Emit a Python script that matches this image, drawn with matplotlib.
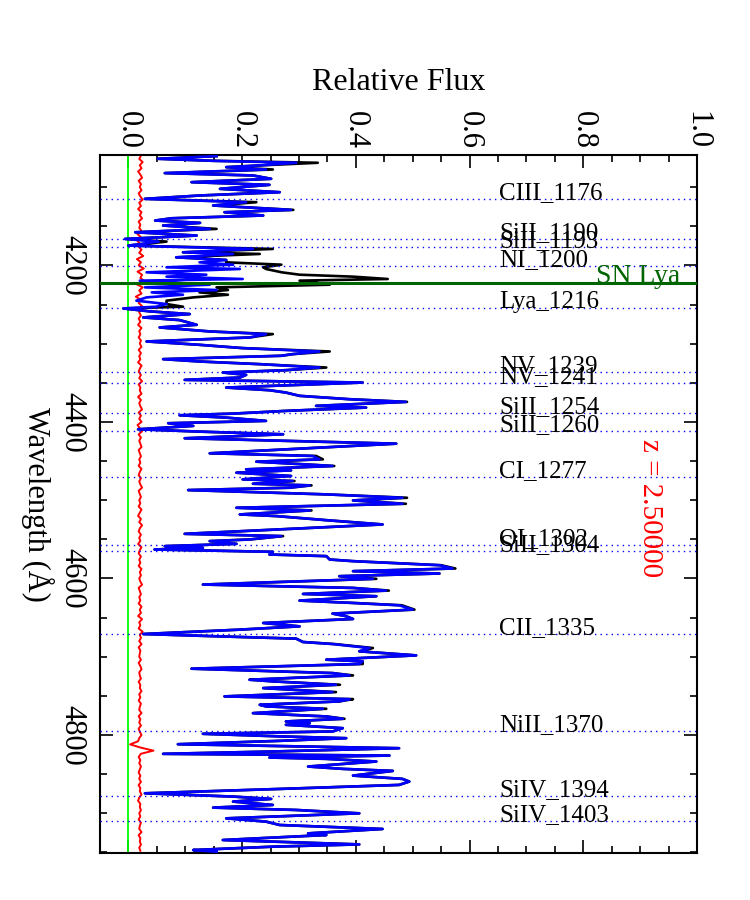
import numpy as np
import matplotlib
matplotlib.use("Agg")
import matplotlib.pyplot as plt
from matplotlib.ticker import MultipleLocator, FormatStrFormatter

# ---------------- data ----------------
z = 2.5
sn_lya = 4222.5

line_names = ["CIII_1176", "SiII_1190", "SiII_1193", "NI_1200", "Lya_1216",
              "NV_1239", "NV_1241", "SiII_1254", "SiII_1260", "CI_1277",
              "OI_1302", "SiII_1304", "CII_1335", "NiII_1370", "SiIV_1394",
              "SiIV_1403"]
line_rest = [1175.71, 1190.42, 1193.29, 1200.09, 1215.67,
             1238.82, 1242.80, 1253.81, 1260.42, 1277.25,
             1302.17, 1304.37, 1334.53, 1370.13, 1393.76,
             1402.77]

wave = [
    4060.4, 4063.8, 4066.4, 4068.9, 4072.3, 4074.5, 4077.5, 4082.1, 4085.1, 4089.4,
    4093.7, 4097.1, 4102.2, 4106.5, 4110.7, 4115.0, 4119.3, 4123.5, 4129.1, 4132.1,
    4136.3, 4139.8, 4142.7, 4145.7, 4149.1, 4153.4, 4157.7, 4161.9, 4166.2, 4169.6,
    4174.7, 4179.0, 4183.3,
    4185.4, 4189.7, 4193.1, 4196.1, 4199.1, 4202.5, 4204.6, 4208.9, 4211.9, 4214.4,
    4217.4, 4219.5, 4224.7, 4228.1, 4231.5, 4234.5, 4237.5, 4240.9, 4245.1, 4249.4,
    4252.8, 4255.0, 4258.8, 4262.2, 4266.5, 4269.9, 4275.9, 4279.3, 4284.4, 4287.8,
    4292.1, 4297.2, 4301.5, 4305.7, 4310.0,
    4313.4, 4315.5, 4319.8, 4322.8, 4326.2, 4330.5, 4333.9, 4336.9, 4339.9, 4343.3,
    4346.3, 4349.7, 4356.1, 4359.5, 4362.5, 4366.7, 4371.0, 4374.4, 4379.5, 4381.7,
    4385.9, 4389.4, 4391.5, 4394.5, 4398.7, 4401.7, 4405.1, 4409.4, 4412.4, 4415.8,
    4420.9, 4425.2, 4427.8, 4432.9, 4440.1,
    4443.5, 4447.8, 4450.8, 4456.3, 4460.6, 4461.9, 4464.9, 4469.1, 4473.4, 4475.5,
    4479.0, 4481.1, 4484.1, 4487.1, 4492.6, 4496.9, 4500.3, 4504.6, 4509.7, 4513.1,
    4518.2, 4520.3, 4525.9, 4531.0, 4536.1, 4543.0, 4545.9, 4550.2, 4552.3, 4555.8,
    4558.7, 4560.9, 4563.0, 4566.0,
    4569.4, 4571.5, 4575.8, 4577.9, 4583.1, 4587.3, 4590.7, 4593.7, 4597.1, 4600.5,
    4607.8, 4612.1, 4615.5, 4619.8, 4622.7, 4628.3, 4631.3, 4634.3, 4639.8, 4644.9,
    4648.3, 4651.8, 4656.9, 4661.2, 4665.4, 4671.0, 4673.9, 4676.9, 4681.2, 4683.8,
    4688.9, 4693.1, 4698.3,
    4703.8, 4705.9, 4709.3, 4715.3, 4720.9, 4723.9, 4729.4, 4731.5, 4735.8, 4740.1,
    4745.2, 4750.7, 4754.2, 4757.1, 4761.4, 4763.5, 4766.5, 4772.1, 4776.3, 4779.3,
    4782.7, 4784.9, 4787.0, 4791.3, 4795.5, 4798.5, 4801.9, 4804.1, 4807.5, 4811.8,
    4816.9, 4821.1, 4824.1, 4826.3,
    4828.8, 4830.5, 4833.9, 4840.3, 4843.3, 4845.9, 4851.9, 4856.1, 4859.5, 4863.8,
    4868.1, 4874.5, 4878.7, 4881.7, 4885.1, 4889.4, 4892.8, 4895.8, 4900.1, 4906.5,
    4910.7, 4915.0, 4920.1, 4925.7, 4927.8, 4934.2, 4939.8, 4942.7, 4947.0, 4949.1,
]

flux_blue = [
    0.155, 0.052, 0.149, 0.295, 0.231, 0.172, 0.242, 0.064, 0.219, 0.251,
    0.111, 0.248, 0.161, 0.266, 0.126, 0.029, 0.207, 0.149, 0.286, 0.169,
    0.237, 0.076, 0.047, 0.126, 0.061, 0.143, 0.012, 0.120, -0.006, 0.053,
    0.000, 0.219, 0.096,
    0.184, 0.084, 0.172, 0.125, 0.184, 0.067, 0.196, 0.032, 0.137, 0.067,
    0.201, 0.020, 0.143, 0.029, 0.155, 0.041, 0.096, 0.032, 0.014, 0.067,
    0.049, -0.009, 0.038, 0.108, 0.026, 0.090, 0.120, 0.055, 0.143, 0.242,
    0.213, 0.032, 0.125, 0.201, 0.336,
    0.289, 0.269, 0.061, 0.125, 0.231, 0.336, 0.277, 0.166, 0.207, 0.196,
    0.099, 0.412, 0.172, 0.248, 0.277, 0.301, 0.389, 0.488, 0.330, 0.418,
    0.277, 0.184, 0.090, 0.172, 0.242, 0.070, 0.114, 0.017, 0.125, 0.272,
    0.099, 0.330, 0.471, 0.336, 0.143,
    0.324, 0.336, 0.225, 0.359, 0.207, 0.286, 0.190, 0.286, 0.201, 0.289,
    0.219, 0.319, 0.283, 0.105, 0.348, 0.482, 0.395, 0.482, 0.190, 0.319,
    0.196, 0.260, 0.354, 0.447, 0.301, 0.099, 0.269, 0.213, 0.143, 0.190,
    0.064, 0.131, 0.046, 0.254,
    0.248, 0.348, 0.354, 0.395, 0.547, 0.570, 0.395, 0.547, 0.371, 0.430,
    0.131, 0.395, 0.453, 0.307, 0.436, 0.301, 0.395, 0.476, 0.500, 0.359,
    0.383, 0.395, 0.237, 0.301, 0.196, 0.026, 0.155, 0.295, 0.307, 0.359,
    0.424, 0.406, 0.506,
    0.348, 0.412, 0.406, 0.111, 0.359, 0.389, 0.213, 0.254, 0.365, 0.237,
    0.359, 0.169, 0.389, 0.371, 0.231, 0.242, 0.342, 0.219, 0.348, 0.377,
    0.277, 0.319, 0.277, 0.377, 0.359, 0.131, 0.272, 0.383, 0.266, 0.087,
    0.476, 0.254, 0.061, 0.459,
    0.248, 0.348, 0.436, 0.316, 0.377, 0.465, 0.395, 0.482, 0.494, 0.476,
    0.301, 0.029, 0.184, 0.251, 0.184, 0.254, 0.149, 0.295, 0.406, 0.172,
    0.242, 0.266, 0.447, 0.316, 0.348, 0.166, 0.406, 0.254, 0.114, 0.155,
]

flux_black = [
    0.155, 0.052, 0.149, 0.333, 0.231, 0.172, 0.254, 0.064, 0.219, 0.251,
    0.111, 0.248, 0.161, 0.266, 0.126, 0.029, 0.225, 0.149, 0.290, 0.169,
    0.237, 0.076, 0.047, 0.126, 0.061, 0.155, 0.012, 0.120, -0.006, 0.067,
    0.000, 0.254, 0.096,
    0.231, 0.084, 0.172, 0.172, 0.269, 0.237, 0.242, 0.270, 0.301, 0.395,
    0.456, 0.301, 0.354, 0.155, 0.175, 0.125, 0.175, 0.114, 0.067, 0.067,
    0.096, -0.009, 0.038, 0.108, 0.026, 0.090, 0.120, 0.055, 0.143, 0.254,
    0.213, 0.032, 0.125, 0.201, 0.354,
    0.289, 0.269, 0.061, 0.125, 0.231, 0.348, 0.277, 0.166, 0.207, 0.196,
    0.099, 0.412, 0.172, 0.248, 0.277, 0.301, 0.389, 0.490, 0.330, 0.418,
    0.277, 0.184, 0.090, 0.172, 0.242, 0.070, 0.114, 0.017, 0.125, 0.272,
    0.099, 0.330, 0.471, 0.336, 0.143,
    0.330, 0.342, 0.225, 0.362, 0.207, 0.286, 0.190, 0.286, 0.201, 0.292,
    0.219, 0.322, 0.283, 0.105, 0.348, 0.490, 0.395, 0.488, 0.190, 0.322,
    0.196, 0.260, 0.354, 0.447, 0.301, 0.099, 0.272, 0.213, 0.143, 0.190,
    0.064, 0.131, 0.046, 0.254,
    0.248, 0.348, 0.354, 0.395, 0.550, 0.575, 0.395, 0.547, 0.371, 0.436,
    0.131, 0.395, 0.458, 0.307, 0.436, 0.301, 0.395, 0.481, 0.503, 0.359,
    0.383, 0.395, 0.237, 0.301, 0.196, 0.026, 0.155, 0.295, 0.307, 0.362,
    0.430, 0.406, 0.506,
    0.348, 0.412, 0.412, 0.111, 0.359, 0.395, 0.213, 0.254, 0.372, 0.237,
    0.365, 0.169, 0.395, 0.371, 0.231, 0.242, 0.348, 0.219, 0.348, 0.380,
    0.277, 0.319, 0.277, 0.377, 0.359, 0.131, 0.272, 0.383, 0.266, 0.087,
    0.476, 0.254, 0.061, 0.459,
    0.248, 0.348, 0.436, 0.316, 0.377, 0.465, 0.395, 0.482, 0.494, 0.476,
    0.301, 0.029, 0.184, 0.251, 0.184, 0.254, 0.149, 0.295, 0.406, 0.172,
    0.242, 0.266, 0.447, 0.316, 0.348, 0.166, 0.406, 0.254, 0.114, 0.155,
]

err_wave = np.arange(4060, 4949, 4)
err_flux = [
    0.022, 0.019, 0.025, 0.020, 0.023, 0.017, 0.021, 0.024, 0.018, 0.022,
    0.020, 0.023, 0.018, 0.021, 0.025, 0.019, 0.022, 0.017, 0.023, 0.020,
    0.024, 0.018, 0.021, 0.019, 0.023, 0.016, 0.022, 0.015, 0.020, 0.018,
    0.023, 0.019, 0.026, 0.015, 0.022, 0.018, 0.027, 0.016, 0.024, 0.021,
    0.028, 0.014, 0.025, 0.019, 0.023, 0.013, 0.022, 0.018, 0.024, 0.020,
    0.019, 0.022, 0.018, 0.021, 0.017, 0.023, 0.019, 0.021, 0.018, 0.022,
    0.020, 0.023, 0.018, 0.022, 0.019, 0.021, 0.017, 0.023, 0.020, 0.018,
    0.022, 0.019, 0.024, 0.018, 0.021, 0.020, 0.023, 0.017, 0.022, 0.019,
    0.021, 0.024, 0.018, 0.022, 0.019, 0.023, 0.016, 0.020, 0.024, 0.018,
    0.022, 0.019, 0.021, 0.023, 0.018, 0.020, 0.022, 0.019, 0.021, 0.018,
    0.023, 0.020, 0.018, 0.022, 0.019, 0.021, 0.024, 0.018, 0.020, 0.022,
    0.019, 0.021, 0.018, 0.023, 0.020, 0.017, 0.022, 0.019, 0.024, 0.020,
    0.018, 0.022, 0.019, 0.021, 0.017, 0.023, 0.020, 0.018, 0.022, 0.019,
    0.021, 0.018, 0.023, 0.020, 0.022, 0.019, 0.021, 0.024, 0.018, 0.020,
    0.022, 0.019, 0.021, 0.018, 0.023, 0.020, 0.022, 0.017, 0.024, 0.019,
    0.021, 0.018, 0.025, 0.020, 0.022, 0.019, 0.023, 0.018, 0.021, 0.020,
    0.019, 0.022, 0.018, 0.021, 0.023, 0.019, 0.020, 0.022, 0.018, 0.021,
    0.020, 0.023, 0.019, 0.021, 0.018, 0.022, 0.020, 0.019, 0.023, 0.018,
    0.021, 0.019, 0.022, 0.018, 0.020, 0.023, 0.019, 0.017, 0.003, 0.021,
    0.044, 0.022, 0.018, 0.021, 0.019, 0.022, 0.020, 0.018, 0.021, 0.019,
    0.022, 0.018, 0.021, 0.020, 0.023, 0.019, 0.017, 0.021, 0.020, 0.022,
    0.019, 0.021, 0.018, 0.022, 0.020, 0.019, 0.023, 0.018, 0.021, 0.020,
    0.022, 0.019, 0.021,
]

# ---------------- plot ----------------
plt.rcParams['font.family'] = ['Liberation Serif', 'DejaVu Serif']

fig = plt.figure(figsize=(7.5, 9), dpi=100)
ax = fig.add_axes([0.13333, 0.05256, 0.796, 0.77467])

ax.plot(err_flux, err_wave, color='red', lw=1.4, zorder=2)
ax.axvline(0.0, color='#00ff00', lw=1.3, zorder=2)
ax.plot(flux_black, wave, color='black', lw=1.9, zorder=3)
ax.plot(flux_blue, wave, color='blue', lw=1.9, zorder=4)

for name, rest in zip(line_names, line_rest):
    obs = rest * (1 + z)
    ax.axhline(obs, color='blue', lw=1.0, ls=(0, (1, 3)), zorder=5)
    ax.text(0.652, obs, name, fontsize=18, ha='left', va='baseline', zorder=6)

ax.axhline(sn_lya, color='#006400', lw=2.2, zorder=6)
ax.text(0.822, sn_lya, 'SN Lya', color='#006400', fontsize=20,
        ha='left', va='baseline', zorder=7)
ax.text(0.918, 4510, 'z = %.5f' % z, color='red', fontsize=21,
        rotation=-90, ha='center', va='center', zorder=7)

ax.set_xlim(-0.05, 1.0)
ax.set_ylim(4950.4, 4059.6)

ax.xaxis.set_major_locator(MultipleLocator(0.2))
ax.xaxis.set_minor_locator(MultipleLocator(0.05))
ax.xaxis.set_major_formatter(FormatStrFormatter('%.1f'))
ax.yaxis.set_major_locator(MultipleLocator(200))
ax.yaxis.set_minor_locator(MultipleLocator(50))

ax.tick_params(which='both', direction='in', top=True, bottom=True,
               left=True, right=True, labeltop=True, labelbottom=False,
               width=1.2, colors='black')
ax.tick_params(which='major', length=9.5, labelsize=22)
ax.tick_params(which='minor', length=5)
ax.tick_params(axis='x', pad=5, labelrotation=-90)
ax.tick_params(axis='y', pad=10, labelrotation=-90)
plt.setp(ax.get_yticklabels(), va='center', ha='right')

for sp in ax.spines.values():
    sp.set_linewidth(1.5)

ax.xaxis.set_label_position('top')
ax.set_xlabel('Relative Flux', fontsize=23, labelpad=15)
ax.set_ylabel('Wavelength (Å)', fontsize=22, rotation=-90, va='center', ha='center')
ax.yaxis.set_label_coords(-0.104, 0.5)

fig.savefig('out.png', dpi=100)
